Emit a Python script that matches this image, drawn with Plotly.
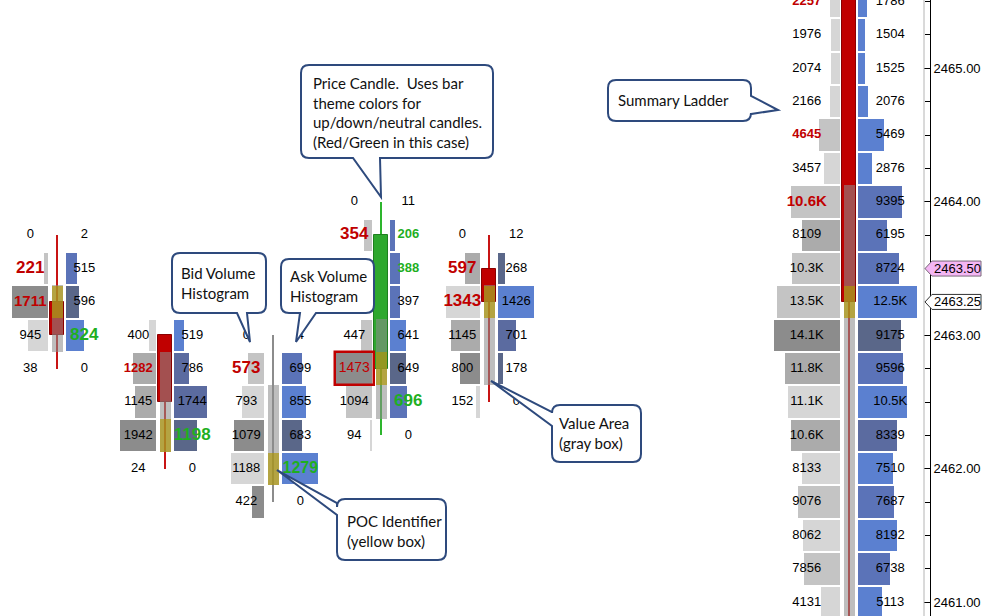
import plotly.graph_objects as go

# ============================ DATA ============================
TICK_SIZE = 0.25
Y_MIN, Y_MAX = 2460.897, 2465.512

# footprint clusters: price rows (top -> bottom), bid / ask volume at each price
# (None = value hidden behind a callout in the source picture)
C1_PRICE = [2463.75, 2463.50, 2463.25, 2463.00, 2462.75]
C1_BID = [0, 221, 1711, 945, 38]
C1_ASK = [2, 515, 596, 824, 0]
C1_OHLC = [2463.25, 2463.75, 2462.75, 2463.00]
C1_VA = [2463.25, 2463.00]
C1_POC = 2463.25

C2_PRICE = [2463.00, 2462.75, 2462.50, 2462.25, 2462.00]
C2_BID = [400, 1282, 1145, 1942, 24]
C2_ASK = [519, 786, 1744, 1198, 0]
C2_OHLC = [2463.00, 2463.00, 2462.00, 2462.50]
C2_VA = [2462.75, 2462.25]
C2_POC = 2462.25

C3_PRICE = [2463.00, 2462.75, 2462.50, 2462.25, 2462.00, 2461.75]
C3_BID = [0, 573, 793, 1079, 1188, 422]
C3_ASK = [4, 699, 855, 683, 1279, 0]
C3_OHLC = [2462.75, 2463.00, 2461.75, 2462.75]
C3_VA = [2462.50, 2462.00]
C3_POC = 2462.00

C4_PRICE = [2464.00, 2463.75, 2463.50, 2463.25, 2463.00, 2462.75, 2462.50, 2462.25]
C4_BID = [0, 354, None, None, 447, 1473, 1094, 94]
C4_ASK = [11, 206, 388, 397, 641, 649, 696, 0]
C4_OHLC = [2462.75, 2464.00, 2462.25, 2463.75]
C4_VA = [2463.00, 2462.50]
C4_POC = 2462.75

C5_PRICE = [2463.75, 2463.50, 2463.25, 2463.00, 2462.75, 2462.50]
C5_BID = [0, 597, 1343, 1145, 800, 152]
C5_ASK = [12, 268, 1426, 701, 178, 0]
C5_OHLC = [2463.50, 2463.75, 2462.50, 2463.25]
C5_VA = [2463.25, 2462.75]
C5_POC = 2463.25

# summary ladder
SUM_PRICE = [2465.50, 2465.25, 2465.00, 2464.75, 2464.50, 2464.25, 2464.00, 2463.75,
             2463.50, 2463.25, 2463.00, 2462.75, 2462.50, 2462.25, 2462.00, 2461.75,
             2461.50, 2461.25, 2461.00]
SUM_BID = [2257, 1976, 2074, 2166, 4645, 3457, 10600, 8109, 10300, 13500, 14100,
           11800, 11100, 10600, 8133, 9076, 8062, 7856, 4131]
SUM_ASK = [1786, 1504, 1525, 2076, 5469, 2876, 9395, 6195, 8724, 12500, 9175,
           9596, 10500, 8339, 7510, 7687, 8192, 6738, 5113]
SUM_OHLC = [2465.75, 2466.00, 2460.75, 2463.25]
SUM_VA = [2464.00, 2460.75]
SUM_POC = 2463.25

TAG_PRICES = [2463.50, 2463.25]

CALLOUT_TEXTS = [
    "Price Candle.&nbsp; Uses bar<br>theme colors for<br>up/down/neutral candles.<br>(Red/Green in this case)",
    "Summary Ladder",
    "Bid Volume<br>Histogram",
    "Ask Volume<br>Histogram",
    "Value Area<br>(gray box)",
    "POC Identifier<br>(yellow box)",
]

# ============================ STYLE ============================
C1_BID_SHADE = [0, 1, 3, 0, 0]
C1_ASK_SHADE = [0, 1, 3, 0, 0]
C1_BID_MARK = ['', 'R', 'r', '', '']
C1_ASK_MARK = ['', '', '', 'G', '']
C2_BID_SHADE = [0, 2, 2, 3, 0]
C2_ASK_SHADE = [0, 2, 2, 3, 0]
C2_BID_MARK = ['', 'rs', '', '', '']
C2_ASK_MARK = ['', '', '', 'G', '']
C3_BID_SHADE = [0, 1, 0, 3, 0, 3]
C3_ASK_SHADE = [0, 1, 0, 3, 0, 0]
C3_BID_MARK = ['', 'R', '', '', '', '']
C3_ASK_MARK = ['', '', '', '', 'g', '']
C4_BID_SHADE = [0, 1, 1, 1, 1, 3, 1, 0]
C4_ASK_SHADE = [0, 1, 1, 1, 0, 3, 1, 0]
C4_BID_MARK = ['', 'R', '', '', '', 'box', '', '']
C4_ASK_MARK = ['', 'gs', 'gs', '', '', '', 'G', '']
C5_BID_SHADE = [0, 2, 0, 2, 3, 0]
C5_ASK_SHADE = [0, 3, 0, 2, 3, 0]
C5_BID_MARK = ['', 'R', 'R', '', '', '']
C5_ASK_MARK = ['', '', '', '', '', '']
SUM_BID_SHADE = [0, 0, 0, 0, 1, 0, 1, 2, 1, 1, 3, 2, 0, 2, 0, 1, 0, 1, 0]
SUM_ASK_SHADE = [0, 0, 0, 0, 0, 0, 1, 1, 1, 0, 3, 1, 0, 2, 0, 1, 0, 1, 0]
SUM_BID_MARK = ['rs', '', '', '', 'rs', '', 'r'] + [''] * 12
SUM_ASK_MARK = [''] * 19

GRAYS = ['#D6D6D6', '#C4C4C4', '#ABABAB', '#8C8C8C']
BLUES = ['#5B80D0', '#5B73B8', '#5B6BA0', '#5A6789']
RED_TXT, GREEN_TXT = '#C00000', '#1FAF1F'
RED_BODY, RED_EDGE, RED_WICK = '#C00000', '#8A0000', '#C81414'
GREEN_BODY, GREEN_EDGE, GREEN_WICK = '#2EA82E', '#1F7F1F', '#2DB52D'
NEUTRAL = '#8C8C8C'
VA_COLOR = 'rgba(140,140,140,0.57)'
POC_COLOR = 'rgba(175,150,0,0.65)'
CALLOUT_LINE = '#2E4A7D'
FONT = 'Arial, "Liberation Sans", sans-serif'
CALLOUT_FONT = 'Lato, "Open Sans", sans-serif'
MARKS = {
    '': (13, '#000000', False), 'R': (17, RED_TXT, True), 'r': (15, RED_TXT, True),
    'rs': (13, RED_TXT, True), 'G': (17, GREEN_TXT, True), 'g': (16, GREEN_TXT, True),
    'gs': (13, GREEN_TXT, True), 'box': (14, RED_TXT, False),
}

# ============================ LAYOUT ============================
FIG_W, FIG_H = 983, 616
PLOT_W = 930
CLUSTER_X0, CLUSTER_STEP = 57.3, 108
SUM_X = 849.3
HALF_GAP = 9
CL_MAXW, SUM_MAXW = 36, 66
CL_TXT, SUM_TXT_BID, SUM_TXT_ASK = 27, 42.5, 41
BODY_W, VA_W, WICK_W = 14, 10.5, 2
ROW_FILL = 0.94
MIN_BAR_PX = 1.0

CALLOUTS = [  # box (x0,y0,x1,y1) px, pointer side, base a/b, tip, text anchor
    ((301, 65, 493, 158), 'bottom', 353, 380, (381, 197), (311, 113)),
    ((608, 80, 751, 121), 'right', 96, 114, (778, 110), (616, 100)),
    ((172, 253, 266, 313), 'bottom', 237, 247, (250, 342), (179, 283)),
    ((281, 259, 374, 313), 'bottom', 300, 316, (296, 342), (288, 286)),
    ((552, 405, 641, 462), 'left', 412, 426, (491, 381), (557, 433)),
    ((337, 499, 446, 560), 'left', 503, 515, (277, 470), (345, 531)),
]

footprints = [
    (C1_PRICE, C1_BID, C1_ASK, C1_OHLC, C1_VA, C1_POC, C1_BID_SHADE, C1_ASK_SHADE, C1_BID_MARK, C1_ASK_MARK),
    (C2_PRICE, C2_BID, C2_ASK, C2_OHLC, C2_VA, C2_POC, C2_BID_SHADE, C2_ASK_SHADE, C2_BID_MARK, C2_ASK_MARK),
    (C3_PRICE, C3_BID, C3_ASK, C3_OHLC, C3_VA, C3_POC, C3_BID_SHADE, C3_ASK_SHADE, C3_BID_MARK, C3_ASK_MARK),
    (C4_PRICE, C4_BID, C4_ASK, C4_OHLC, C4_VA, C4_POC, C4_BID_SHADE, C4_ASK_SHADE, C4_BID_MARK, C4_ASK_MARK),
    (C5_PRICE, C5_BID, C5_ASK, C5_OHLC, C5_VA, C5_POC, C5_BID_SHADE, C5_ASK_SHADE, C5_BID_MARK, C5_ASK_MARK),
]
specs = []
for i, fp in enumerate(footprints):
    specs.append((fp, CLUSTER_X0 + i * CLUSTER_STEP, CL_MAXW, CL_TXT, CL_TXT, False))
specs.append(((SUM_PRICE, SUM_BID, SUM_ASK, SUM_OHLC, SUM_VA, SUM_POC, SUM_BID_SHADE,
               SUM_ASK_SHADE, SUM_BID_MARK, SUM_ASK_MARK), SUM_X, SUM_MAXW, SUM_TXT_BID, SUM_TXT_ASK, True))


def label(v, k):
    return f"{v / 1000:.1f}K" if (k and v >= 10000) else str(v)


bars = {k: dict(y=[], x=[], base=[], width=[], color=[]) for k in
        ('bid', 'ask', 'wick', 'body', 'va', 'poc', 'frame')}
body_edges = []
texts = dict(x=[], y=[], t=[], s=[], c=[])


def add(kind, y, length, base, thick, color):
    b = bars[kind]
    b['y'].append(y); b['x'].append(length); b['base'].append(base)
    b['width'].append(thick); b['color'].append(color)


def add_text(x, y, v, mark, k):
    size, col, bold = MARKS[mark]
    t = label(v, k)
    texts['x'].append(x); texts['y'].append(y)
    texts['t'].append(f"<b>{t}</b>" if bold else t)
    texts['s'].append(size); texts['c'].append(col)


for (price, bid, ask, ohlc, va, poc, bsh, ash, bmk, amk), cx, maxw, tb, ta, k in specs:
    scale = maxw / max(max(v for v in bid if v is not None), max(v for v in ask if v is not None))
    for p, b, a, bs, as_, bm, am in zip(price, bid, ask, bsh, ash, bmk, amk):
        if b is not None:
            if b * scale >= MIN_BAR_PX:
                add('bid', p, b * scale, cx - HALF_GAP - b * scale, TICK_SIZE * ROW_FILL, GRAYS[bs])
            add_text(cx - tb, p, b, bm, k)
        if a is not None:
            if a * scale >= MIN_BAR_PX:
                add('ask', p, a * scale, cx + HALF_GAP, TICK_SIZE * ROW_FILL, BLUES[as_])
            add_text(cx + ta, p, a, am, k)
        if bm == 'box':
            add('frame', p, maxw + 2.6, cx - HALF_GAP - maxw - 1.3, TICK_SIZE * 0.97, 'rgba(0,0,0,0)')
    o, h, l, c = ohlc
    if c > o:
        wc, bc, ec = GREEN_WICK, GREEN_BODY, GREEN_EDGE
    elif c < o:
        wc, bc, ec = RED_WICK, RED_BODY, RED_EDGE
    else:
        wc, bc, ec = NEUTRAL, None, None
    add('wick', (h + l) / 2, WICK_W, cx - WICK_W / 2, h - l, wc)
    if bc:
        add('body', (o + c) / 2, BODY_W, cx - BODY_W / 2, abs(o - c), bc)
        body_edges.append(ec)
    add('va', (va[0] + va[1]) / 2, VA_W, cx - VA_W / 2, va[0] - va[1] + TICK_SIZE, VA_COLOR)
    add('poc', poc, VA_W, cx - VA_W / 2, TICK_SIZE * 0.97, POC_COLOR)

fig = go.Figure()
for kind in ('bid', 'ask', 'wick', 'body', 'va', 'poc'):
    b = bars[kind]
    line = dict(width=0)
    if kind == 'body':
        line = dict(width=1, color=body_edges)
    fig.add_trace(go.Bar(orientation='h', y=b['y'], x=b['x'], base=b['base'], width=b['width'],
                         marker=dict(color=b['color'], line=line), hoverinfo='skip', showlegend=False))

fig.add_trace(go.Scatter(x=texts['x'], y=texts['y'], text=texts['t'], mode='text',
                         textposition='middle center', cliponaxis=True,
                         textfont=dict(family=FONT, size=texts['s'], color=texts['c']),
                         hoverinfo='skip', showlegend=False))

b = bars['frame']
fig.add_trace(go.Bar(orientation='h', y=b['y'], x=b['x'], base=b['base'], width=b['width'],
                     marker=dict(color=b['color'], line=dict(width=2.5, color=RED_TXT)),
                     hoverinfo='skip', showlegend=False))


def pp(px, py):
    return f"{px / PLOT_W:.5f},{1 - py / FIG_H:.5f}"


def bubble(x0, y0, x1, y1, side, a, bb, tip, r=8):
    s = f"M{pp(x0 + r, y0)} L{pp(x1 - r, y0)} Q{pp(x1, y0)} {pp(x1, y0 + r)}"
    if side == 'right':
        s += f" L{pp(x1, a)} L{pp(*tip)} L{pp(x1, bb)}"
    s += f" L{pp(x1, y1 - r)} Q{pp(x1, y1)} {pp(x1 - r, y1)}"
    if side == 'bottom':
        s += f" L{pp(bb, y1)} L{pp(*tip)} L{pp(a, y1)}"
    s += f" L{pp(x0 + r, y1)} Q{pp(x0, y1)} {pp(x0, y1 - r)}"
    if side == 'left':
        s += f" L{pp(x0, bb)} L{pp(*tip)} L{pp(x0, a)}"
    s += f" L{pp(x0, y0 + r)} Q{pp(x0, y0)} {pp(x0 + r, y0)} Z"
    return s


shapes = [dict(type='line', xref='x', yref='paper', x0=924, x1=924, y0=0, y1=1,
               line=dict(color='#B4B4B4', width=1), layer='above')]
annotations = []
for txt, (box, side, a, bb, tip, (tx, ty)) in zip(CALLOUT_TEXTS, CALLOUTS):
    shapes.append(dict(type='path', xref='paper', yref='paper', path=bubble(*box, side, a, bb, tip),
                       fillcolor='white', line=dict(color=CALLOUT_LINE, width=2), layer='above'))
    annotations.append(dict(xref='paper', yref='paper', x=tx / PLOT_W, y=1 - ty / FIG_H,
                            xanchor='left', yanchor='middle', align='left', showarrow=False,
                            text=txt, font=dict(family=CALLOUT_FONT, size=15, color='#111111')))

TAG_STYLES = [('#F4B6F4', '#7A6A7A'), ('#FFFFFF', '#333333')]
for price, (fill, edge) in zip(TAG_PRICES, TAG_STYLES):
    py = (Y_MAX - price) / (Y_MAX - Y_MIN) * FIG_H
    h = 7.5
    path = (f"M{pp(925, py)} L{pp(932, py - h)} L{pp(981, py - h)} L{pp(981, py + h)} "
            f"L{pp(932, py + h)} Z")
    shapes.append(dict(type='path', xref='paper', yref='paper', path=path, fillcolor=fill,
                       line=dict(color=edge, width=1), layer='above'))
    annotations.append(dict(xref='paper', yref='y', x=957 / PLOT_W, y=price, xanchor='center',
                            yanchor='middle', showarrow=False, text=f"{price:.2f}",
                            font=dict(family=FONT, size=13, color='#000000')))

fig.update_layout(
    width=FIG_W, height=FIG_H, margin=dict(l=0, r=FIG_W - PLOT_W, t=0, b=0),
    paper_bgcolor='white', plot_bgcolor='white', barmode='overlay', bargap=0,
    hovermode=False, showlegend=False, shapes=shapes, annotations=annotations,
    xaxis=dict(range=[0, PLOT_W], visible=False, fixedrange=True),
    yaxis=dict(range=[Y_MIN, Y_MAX], side='right', showgrid=False, zeroline=False,
               showline=True, linecolor='black', linewidth=1, ticks='inside', ticklen=6,
               tickcolor='black', tick0=2461, dtick=1, tickformat='.2f', automargin=False,
               tickfont=dict(family=FONT, size=13, color='black'),
               minor=dict(dtick=TICK_SIZE, ticks='inside', ticklen=5, tickcolor='black',
                          showgrid=False)),
)

fig.write_html("out.html", config={'displayModeBar': False},
               post_script="document.body.style.margin='0';document.body.style.overflow='hidden';")
